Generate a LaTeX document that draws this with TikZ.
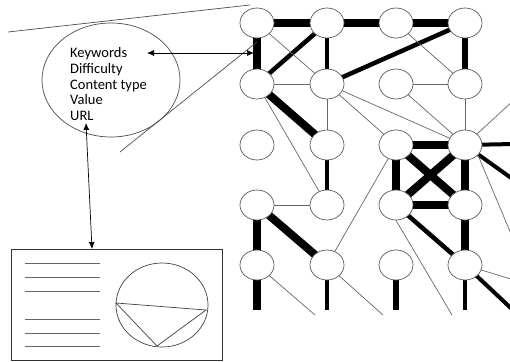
\documentclass[tikz,border=0pt]{standalone}
\usepackage{fontspec}
\setmainfont{Carlito}
\usetikzlibrary{shapes.geometric,arrows.meta,backgrounds}
\begin{document}
\begin{tikzpicture}[x=1pt,y=-1pt,
  gn/.style={ellipse,draw=black!65,fill=white,line width=0.7pt,minimum width=34pt,minimum height=30pt,inner sep=0pt},
  tl/.style={draw=black!60,line width=0.7pt},
  md/.style={draw=black,line width=4.5pt},
  tk/.style={draw=black,line width=8pt},
  lbl/.style={anchor=base west,inner sep=0pt,font=\fontsize{14.5}{16}\selectfont},
  gline/.style={draw=black!70,line width=0.7pt},
  arr/.style={draw=black,line width=0.7pt,{Latex[length=7pt,width=6pt]}-{Latex[length=7pt,width=6pt]}}
]
\useasboundingbox (0,0) rectangle (510,361);

% grid nodes
\foreach \c/\x in {1/257,2/327,3/396,4/465}{
  \foreach \r/\y in {1/23,2/84,3/145,4/205,5/265}{
    \node[gn] (n\c\r) at (\x,\y) {};
  }
}

% free ends
\coordinate (s15) at (257,310);
\coordinate (s25) at (327,310);
\coordinate (s35) at (396,310);
\coordinate (s45) at (465,310);
\coordinate (f15) at (315,315);
\coordinate (f25) at (383,315);
\coordinate (f34) at (452,315);
\coordinate (e43a) at (514,100);
\coordinate (e43b) at (514,144);
\coordinate (e43c) at (514,180);
\coordinate (e43d) at (514,241);
\coordinate (e45a) at (514,280);
\coordinate (e45b) at (514,311);

\begin{scope}[on background layer]
  % thick
  \foreach \a/\b in {n11/n21,n21/n31,n31/n41,n11/n12,n12/n23,n14/n15,n14/n25,
                     n33/n34,n43/n44,n33/n44,n43/n34,n33/n43,n34/n44,n44/n45}
    \path[tk] (\a.center) -- (\b.center);
  \path[tk] (n15.center) -- (s15);
  \path[line width=6.5pt,draw=black] (n35.center) -- (s35);
  % medium
  \foreach \a/\b in {n21/n12,n21/n22,n41/n22,n23/n24,n34/n45}
    \path[md] (\a.center) -- (\b.center);
  \path[md,line width=5.5pt] (n41.center) -- (n42.center);
  \path[md] (n25.center) -- (s25);
  \path[md] (n45.center) -- (s45);
  \path[md,line width=4pt] (n43.center) -- (e43b);
  \path[md,line width=4pt] (n43.center) -- (e43c);
  \path[md,line width=4pt] (n45.center) -- (e45b);
  % thin
  \foreach \a/\b in {n11/n22,n31/n42,n12/n22,n32/n42,n22/n23,n22/n43,n22/n33,
                     n32/n43,n42/n43,n12/n24,n33/n25,n14/n24}
    \path[tl] (\a.center) -- (\b.center);
  \path[tl] (n43.center) -- (e43a);
  \path[tl] (n43.-38) -- (e43d);
  \path[tl] (n45.center) -- (e45a);
  \path[tl] (n34.south) -- (f34);
  \path[tl] (n15.center) -- (f15);
  \path[tl] (n25.center) -- (f25);
\end{scope}

% magnifier ellipse and lines
\node[ellipse,draw=black!70,line width=0.7pt,minimum width=138pt,minimum height=114pt,inner sep=0pt] (mag) at (111,80) {};
\coordinate (la1) at (8,32);
\coordinate (la2) at (250,5);
\coordinate (lb1) at (120,152);
\coordinate (lb2) at (257,42);
\path[gline] (la1) -- (la2);
\path[gline] (lb1) -- (lb2);

\node[lbl] (kw) at (70,57) {Keywords};
\node[lbl] (df) at (70,73) {Difficulty};
\node[lbl] (ct) at (70,89) {Content type};
\node[lbl] (va) at (70,104.5) {Value};
\node[lbl] (ur) at (70,120) {URL};

\coordinate (kwl) at (147,53);
\coordinate (kwr) at (254,53);
\path[arr] (kwl) -- (kwr);

% card
\node[draw=black!80,line width=0.7pt,minimum width=211pt,minimum height=111pt,inner sep=0pt] (card) at (116.5,304.5) {};
\coordinate (urb) at (86,123);
\coordinate (cardt) at (92,249);
\path[arr] (urb) -- (cardt);

\foreach \y in {263,277,291,319,333,346}
  \path[draw=black!60,line width=0.8pt] (25,\y) -- (100,\y);
\node[ellipse,draw=black!75,line width=0.7pt,minimum width=92pt,minimum height=84pt,inner sep=0pt] (pic) at (162,305) {};
\coordinate (t1) at (116,303);
\coordinate (t2) at (206,310);
\coordinate (t3) at (157,346);
\path[draw=black!75,line width=0.7pt] (t1) -- (t2) -- (t3) -- cycle;
\end{tikzpicture}
\end{document}
